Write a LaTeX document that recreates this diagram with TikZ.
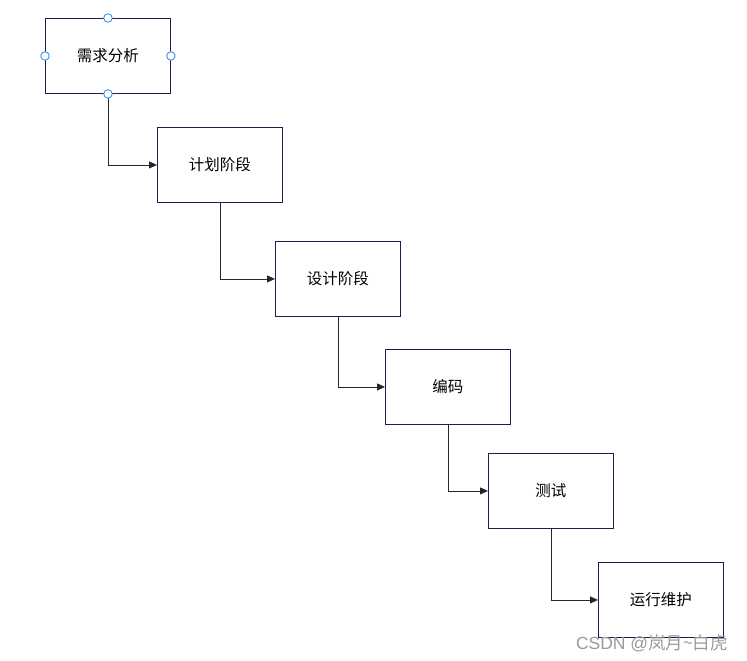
\documentclass[tikz,border=0pt]{standalone}
\usepackage{fontspec}
\setmainfont{Noto Sans CJK SC}
\newfontfamily\latinwm{Liberation Sans}
\usetikzlibrary{arrows.meta}
\definecolor{boxline}{HTML}{1B1F4B}
\definecolor{handle}{HTML}{3D8FF0}
\definecolor{wm}{HTML}{9A9A9A}
\begin{document}
\begin{tikzpicture}[x=1pt,y=-1pt,
  stage/.style={draw=boxline,line width=0.9pt,minimum width=125pt,minimum height=75pt,inner sep=0pt,font=\fontsize{15.5}{17}\selectfont,anchor=north west},
  conn/.style={draw=black!85,line width=0.9pt,-{Triangle[length=8pt,width=7pt]}},
  hnd/.style={circle,draw=handle,fill=white,line width=0.9pt,minimum size=8.5pt,inner sep=0pt}]
\useasboundingbox (0,0) rectangle (747,661);
\node[stage] (a) at (45,18) {需求分析};
\node[stage] (b) at (157,127) {计划阶段};
\node[stage] (c) at (275,241) {设计阶段};
\node[stage] (d) at (385,349) {编码};
\node[stage] (e) at (488,453) {测试};
\node[stage] (f) at (598,562) {运行维护};
\draw[conn] (a.south) |- (b.west);
\draw[conn] (b.south) |- (c.west);
\draw[conn] (c.south) |- (d.west);
\draw[conn] (d.south) |- (e.west);
\draw[conn] (e.south) |- (f.west);
\node[hnd] (h1) at (a.north) {};
\node[hnd] (h2) at (a.west) {};
\node[hnd] (h3) at (a.east) {};
\node[hnd] (h4) at (a.south) {};
\node[text=wm,font=\fontsize{17.5}{19}\selectfont,anchor=center,inner sep=0pt] (w) at (652,643) {{\latinwm CSDN @}岚月\textasciitilde 白虎};
\end{tikzpicture}
\end{document}
